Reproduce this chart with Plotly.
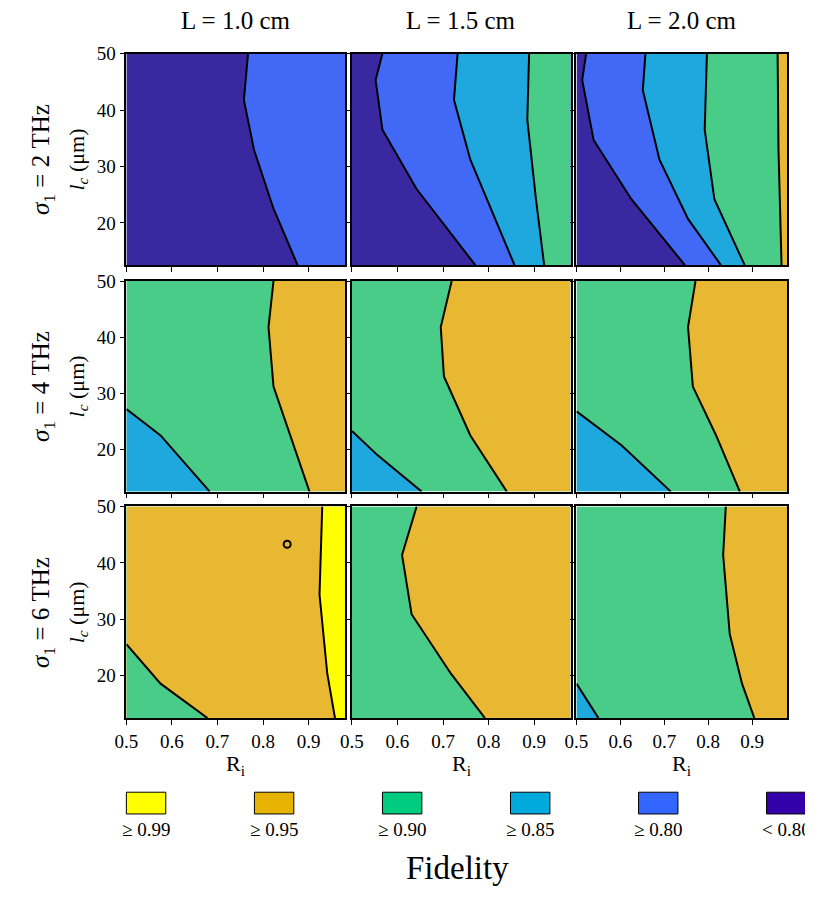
import plotly.graph_objects as go
from plotly.subplots import make_subplots

FONT = "Liberation Serif"
X_MIN, X_MAX, Y_MIN, Y_MAX = 0.5, 0.98, 12.5, 50
OFF = 17
W, H = 814 - OFF, 908 - OFF

col_titles = ["L = 1.0 cm", "L = 1.5 cm", "L = 2.0 cm"]
row_titles = ["2", "4", "6"]

# fidelity classes and colours
fill_colors = {"<0.80": "#3A28A0", "0.80": "#4169F5", "0.85": "#1EA8DE",
               "0.90": "#48CC88", "0.95": "#E8B832", "0.99": "#FFFF00"}
legend_labels = ["≥ 0.99", "≥ 0.95", "≥ 0.90", "≥ 0.85", "≥ 0.80", "< 0.80"]
legend_colors = ["#FFFF00", "#E6B400", "#00CC80", "#00AADD", "#3366FF", "#3300AA"]

# contour boundaries: (x list, y list, fill class, side)
p11 = [([0.767, 0.758, 0.78, 0.823, 0.876], [50, 41.8, 33, 22.5, 12.5], "0.80", "right")]
p12 = [([0.567, 0.552, 0.567, 0.642, 0.771], [50, 45.3, 36.5, 26, 12.5], "0.80", "right"),
       ([0.732, 0.724, 0.760, 0.810, 0.857], [50, 41.8, 31.2, 21.5, 12.5], "0.85", "right"),
       ([0.889, 0.885, 0.904, 0.922], [50, 38.3, 24.2, 12.5], "0.90", "right")]
p13 = [([0.522, 0.513, 0.539, 0.625, 0.747], [50, 45.3, 34.7, 24.2, 12.5], "0.80", "right"),
       ([0.657, 0.651, 0.689, 0.754, 0.829], [50, 43.5, 31.2, 20.7, 12.5], "0.85", "right"),
       ([0.797, 0.792, 0.814, 0.883], [50, 36.5, 24.2, 12.5], "0.90", "right"),
       ([0.958, 0.960, 0.967], [50, 33, 12.5], "0.95", "right")]
p21 = [([0.823, 0.812, 0.823, 0.859, 0.902], [50, 41.8, 31.2, 22.5, 12.5], "0.95", "right"),
       ([0.5, 0.575, 0.683], [27.2, 22.5, 12.5], "0.85", "low")]
p22 = [([0.719, 0.695, 0.702, 0.760, 0.840], [50, 41.8, 33, 22.5, 12.5], "0.95", "right"),
       ([0.5, 0.556, 0.653], [23.3, 19, 12.5], "0.85", "low")]
p23 = [([0.771, 0.754, 0.765, 0.818, 0.872], [50, 41.8, 31.2, 22.5, 12.5], "0.95", "right"),
       ([0.5, 0.603, 0.715], [26.8, 20.7, 12.5], "0.85", "low")]
p31 = [([0.5], [50], "0.95", "right"),
       ([0.930, 0.924, 0.941, 0.958], [50, 34.4, 20.4, 12.5], "0.99", "right"),
       ([0.5, 0.575, 0.678], [25.6, 18.6, 12.5], "0.90", "low")]
p32 = [([0.642, 0.610, 0.631, 0.717, 0.792], [50, 41.4, 30.9, 20.4, 12.5], "0.95", "right")]
p33 = [([0.840, 0.834, 0.849, 0.877, 0.905], [50, 41.4, 27.4, 18.6, 12.5], "0.95", "right"),
       ([0.5, 0.55], [18.6, 12.5], "0.85", "low")]

backgrounds = [["<0.80", "<0.80", "<0.80"], ["0.90", "0.90", "0.90"], ["0.90", "0.90", "0.90"]]
panels = [[p11, p12, p13], [p21, p22, p23], [p31, p32, p33]]
circle_x, circle_y = [0.853], [43.3]


def fx(p):
    return (p - OFF) / W


def fy(p):
    return 1 - (p - OFF) / H


fig = make_subplots(rows=3, cols=3)

for r in range(3):
    for c in range(3):
        row, col = r + 1, c + 1
        bg = fill_colors[backgrounds[r][c]]
        fig.add_trace(go.Scatter(x=[X_MIN, X_MAX, X_MAX, X_MIN, X_MIN],
                                 y=[Y_MIN, Y_MIN, Y_MAX, Y_MAX, Y_MIN],
                                 fill="toself", fillcolor=bg, mode="none",
                                 showlegend=False, hoverinfo="skip"), row=row, col=col)
        for xs, ys, cls, side in panels[r][c]:
            if len(xs) == 1:
                px_, py_ = [X_MIN, X_MIN], [Y_MAX, Y_MIN]
                line = False
            else:
                px_, py_ = list(xs), list(ys)
                line = True
            if side == "right":
                px_ += [X_MAX, X_MAX]
                py_ += [Y_MIN, Y_MAX]
            else:
                px_ += [X_MIN]
                py_ += [Y_MIN]
            fig.add_trace(go.Scatter(x=px_ + [px_[0]], y=py_ + [py_[0]], fill="toself",
                                     fillcolor=fill_colors[cls], mode="none",
                                     showlegend=False, hoverinfo="skip"), row=row, col=col)
            if line:
                fig.add_trace(go.Scatter(x=xs, y=ys, mode="lines", line=dict(color="black", width=2),
                                         showlegend=False, hoverinfo="skip"),
                              row=row, col=col)

fig.add_trace(go.Scatter(x=circle_x, y=circle_y, mode="markers",
                         marker=dict(symbol="circle-open", size=7, color="black",
                                     line=dict(width=2)),
                         showlegend=False), row=3, col=1)

xdom = [(fx(125), fx(347)), (fx(354), fx(576)), (fx(582), fx(796))]
ydom = [(fy(267), fy(53)), (fy(496), fy(283)), (fy(725), fy(511))]
for r in range(3):
    for c in range(3):
        n = r * 3 + c + 1
        sfx = "" if n == 1 else str(n)
        fig.layout["xaxis" + sfx].update(
            domain=xdom[c], range=[X_MIN, X_MAX], showgrid=False, zeroline=False,
            showline=True, linecolor="black", linewidth=1.5, mirror=True,
            ticks="outside", tickvals=[0.5, 0.6, 0.7, 0.8, 0.9], tickcolor="black",
            showticklabels=(r == 2), tickfont=dict(family=FONT, size=19, color="black"))
        fig.layout["yaxis" + sfx].update(
            domain=ydom[r], range=[Y_MIN, Y_MAX], showgrid=False, zeroline=False,
            showline=True, linecolor="black", linewidth=1.5, mirror=True,
            ticks="outside", tickvals=[20, 30, 40, 50], tickcolor="black",
            showticklabels=(c == 0), tickfont=dict(family=FONT, size=19, color="black"))

ann = []
for c in range(3):
    xm = (xdom[c][0] + xdom[c][1]) / 2
    ann.append(dict(x=xm, y=fy(20), text=col_titles[c], font=dict(size=25)))
    ann.append(dict(x=xm, y=fy(772), text="R<sub>i</sub>", font=dict(size=22)))
for r in range(3):
    ym = (ydom[r][0] + ydom[r][1]) / 2
    ann.append(dict(x=fx(40), y=ym, text="<i>σ</i><sub>1</sub> = " + row_titles[r] + " THz",
                    textangle=-90, font=dict(size=25)))
    ann.append(dict(x=fx(76), y=ym, text="<i>l<sub>c</sub></i> (μm)",
                    textangle=-90, font=dict(size=22)))

shapes = []
for i, (lab, colr) in enumerate(zip(legend_labels, legend_colors)):
    xl = 125 + i * 130
    shapes.append(dict(type="rect", xref="paper", yref="paper", x0=fx(xl), x1=fx(xl + 40),
                       y0=fy(822), y1=fy(800), fillcolor=colr,
                       line=dict(color="black", width=1)))
    ann.append(dict(x=fx(xl + 20), y=fy(838), text=lab, font=dict(size=19)))
ann.append(dict(x=fx(461), y=fy(877), text="Fidelity", font=dict(size=33)))

for a in ann:
    a.update(xref="paper", yref="paper", showarrow=False, xanchor="center", yanchor="middle")
    a["font"].update(family=FONT, color="black")

fig.update_layout(width=W, height=H, margin=dict(l=0, r=0, t=0, b=0),
                  plot_bgcolor="white", paper_bgcolor="white",
                  annotations=ann, shapes=shapes, font=dict(family=FONT))

fig.write_html("out.html")
